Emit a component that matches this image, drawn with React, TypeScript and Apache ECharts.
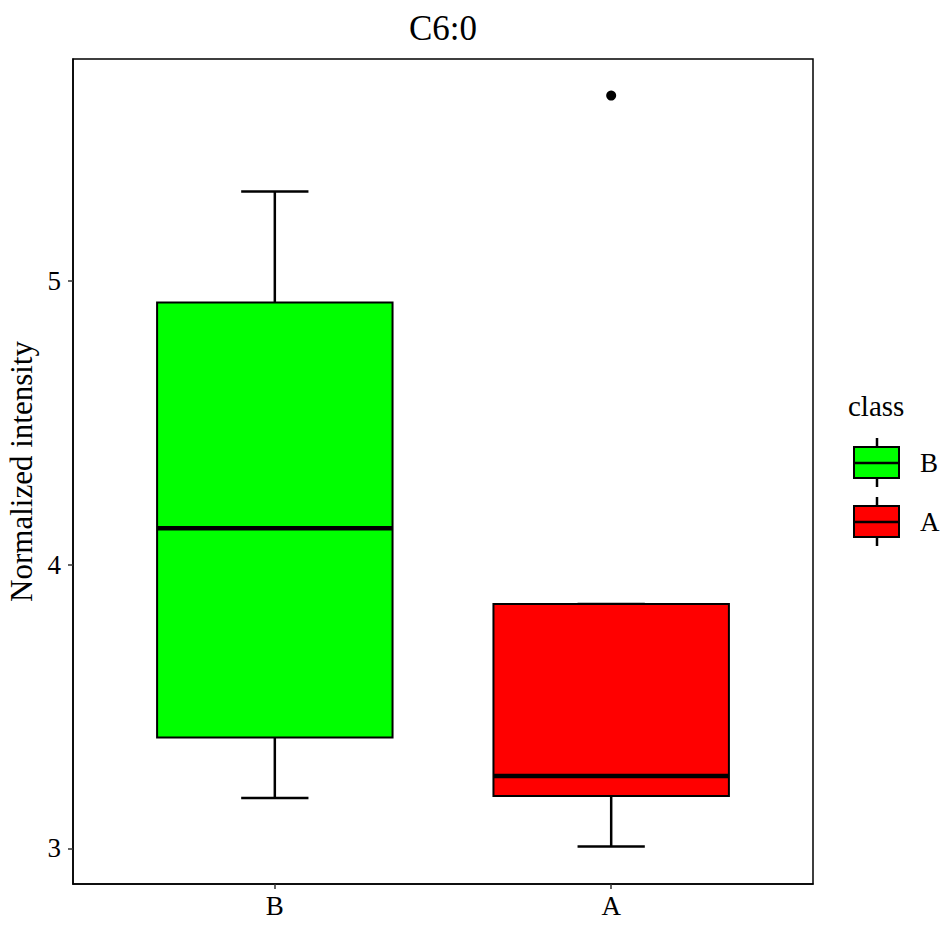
import React, { useEffect, useRef } from "react";
import * as echarts from "echarts";

const classes = ["B", "A"];
const classPositions = [1, 2];
const lowerWhisker = [3.177, 3.006];
const q1Values = [3.391, 3.184];
const medianValues = [4.128, 3.255];
const q3Values = [4.924, 3.861];
const upperWhisker = [5.316, 3.861];
const outlierClass = ["A"];
const outlierValues = [5.654];
const fillColors = ["#00ff00", "#ff0000"];
const yTicks = [3, 4, 5];

const FONT = "'Liberation Serif', 'Times New Roman', serif";

export default function App() {
  const ref = useRef<HTMLDivElement>(null);
  useEffect(() => {
    if (!ref.current) return;
    const chart = echarts.init(ref.current, null, { renderer: "svg" });

    const boxData = classes.map((c, i) => [
      classPositions[i],
      lowerWhisker[i],
      q1Values[i],
      medianValues[i],
      q3Values[i],
      upperWhisker[i],
    ]);
    const outlierData = outlierClass.map((c, i) => [
      classPositions[classes.indexOf(c)],
      outlierValues[i],
    ]);

    const legendKey = (y: number, color: string) => ({
      type: "group",
      children: [
        { type: "line", shape: { x1: 877, y1: y - 25, x2: 877, y2: y - 16 }, style: { stroke: "#000", lineWidth: 2.5 } },
        { type: "line", shape: { x1: 877, y1: y + 15, x2: 877, y2: y + 24 }, style: { stroke: "#000", lineWidth: 2.5 } },
        { type: "rect", shape: { x: 854, y: y - 16, width: 45, height: 31 }, style: { fill: color, stroke: "#000", lineWidth: 2 } },
        { type: "line", shape: { x1: 854, y1: y, x2: 899, y2: y }, style: { stroke: "#000", lineWidth: 2.5 } },
      ],
    });

    chart.setOption({
      animation: false,
      backgroundColor: "#fff",
      grid: {
        left: 73,
        right: 139,
        top: 59,
        bottom: 43,
        outerBoundsMode: "none",
        containLabel: false,
        show: true,
        borderColor: "#000",
        borderWidth: 1.5,
        backgroundColor: "transparent",
      },
      xAxis: {
        type: "value",
        min: 0.4,
        max: 2.6,
        splitLine: { show: false },
        axisLine: { show: true, onZero: false, lineStyle: { color: "#000", width: 1.5 } },
        axisTick: { show: true, customValues: classPositions, length: 5, lineStyle: { color: "#333", width: 1.5 } },
        axisLabel: {
          customValues: classPositions,
          formatter: (v: number) => classes[classPositions.indexOf(v)] ?? "",
          fontFamily: FONT,
          fontSize: 27,
          color: "#000",
          margin: 8,
        },
      },
      yAxis: {
        type: "value",
        min: 2.874,
        max: 5.783,
        name: "Normalized intensity",
        nameLocation: "middle",
        nameGap: 33,
        nameTextStyle: { fontFamily: FONT, fontSize: 31, color: "#000" },
        splitLine: { show: false },
        axisLine: { show: true, onZero: false, lineStyle: { color: "#000", width: 1.5 } },
        axisTick: { show: true, customValues: yTicks, length: 5, lineStyle: { color: "#333", width: 1.5 } },
        axisLabel: {
          customValues: yTicks,
          fontFamily: FONT,
          fontSize: 27,
          color: "#000",
          margin: 12,
        },
      },
      series: [
        {
          type: "custom",
          data: boxData,
          encode: { x: 0, y: [1, 2, 3, 4, 5] },
          renderItem: (params: any, api: any) => {
            const x = api.value(0);
            const pLo = api.coord([x, api.value(1)]);
            const pQ1 = api.coord([x, api.value(2)]);
            const pMed = api.coord([x, api.value(3)]);
            const pQ3 = api.coord([x, api.value(4)]);
            const pHi = api.coord([x, api.value(5)]);
            const bw = api.size([0.7, 0])[0];
            const cw = api.size([0.2, 0])[0];
            const cx = pMed[0];
            const color = fillColors[params.dataIndex];
            const ls = { stroke: "#000", lineWidth: 2.5 };
            return {
              type: "group",
              children: [
                { type: "line", shape: { x1: cx, y1: pHi[1], x2: cx, y2: pQ3[1] }, style: ls },
                { type: "line", shape: { x1: cx, y1: pQ1[1], x2: cx, y2: pLo[1] }, style: ls },
                { type: "line", shape: { x1: cx - cw / 2, y1: pHi[1], x2: cx + cw / 2, y2: pHi[1] }, style: ls },
                { type: "line", shape: { x1: cx - cw / 2, y1: pLo[1], x2: cx + cw / 2, y2: pLo[1] }, style: ls },
                {
                  type: "rect",
                  shape: { x: cx - bw / 2, y: pQ3[1], width: bw, height: pQ1[1] - pQ3[1] },
                  style: { fill: color, stroke: "#000", lineWidth: 2 },
                },
                {
                  type: "line",
                  shape: { x1: cx - bw / 2, y1: pMed[1], x2: cx + bw / 2, y2: pMed[1] },
                  style: { stroke: "#000", lineWidth: 4.5 },
                },
              ],
            };
          },
        },
        {
          type: "scatter",
          data: outlierData,
          symbol: "circle",
          symbolSize: 10,
          itemStyle: { color: "#000", opacity: 1 },
        },
      ],
      graphic: [
        {
          type: "text",
          x: 443,
          y: 28,
          style: { text: "C6:0", font: `35px ${FONT}`, fill: "#000", textAlign: "center", textVerticalAlign: "middle" },
        },
        {
          type: "text",
          x: 848,
          y: 406,
          style: { text: "class", font: `29px ${FONT}`, fill: "#000", textAlign: "left", textVerticalAlign: "middle" },
        },
        legendKey(463, fillColors[0]),
        legendKey(522, fillColors[1]),
        {
          type: "text",
          x: 920,
          y: 463,
          style: { text: classes[0], font: `27px ${FONT}`, fill: "#000", textAlign: "left", textVerticalAlign: "middle" },
        },
        {
          type: "text",
          x: 920,
          y: 522,
          style: { text: classes[1], font: `27px ${FONT}`, fill: "#000", textAlign: "left", textVerticalAlign: "middle" },
        },
      ],
    });
    return () => chart.dispose();
  }, []);
  return <div ref={ref} style={{ width: 952, height: 927, margin: -8 }} />;
}
